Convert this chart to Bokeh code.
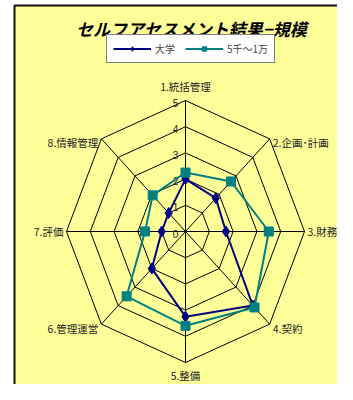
import math
from bokeh.plotting import figure
from bokeh.models import Range1d, Legend, LegendItem
from bokeh.core.properties import value
from bokeh.embed import file_html
from bokeh.resources import INLINE

# ---- data ----
categories = ["1.統括管理", "2.企画･計画", "3.財務", "4.契約", "5.整備", "6.管理運営", "7.評価", "8.情報管理"]
series_names = ["大学", "5千～1万"]
daigaku = [2.0, 1.8, 1.7, 4.0, 3.25, 2.0, 1.0, 1.0]
man1 = [2.25, 2.7, 3.5, 4.1, 3.6, 3.5, 1.7, 1.95]
tick_labels = ["0", "1", "2", "3", "4", "5"]
title_text = "セルフアセスメント結果−規模"

# ---- layout (figure pixels -> data units) ----
W, H = 337, 384
CX, CY = 185.0, 231.0      # px of chart centre
SX, SY = 23.8, 26.2        # px per unit
def px(x):
    return (x - CX) / SX
def py(y):
    return (CY - y) / SY

FONT_NAME = "Noto Sans CJK JP"
FONT = value(FONT_NAME)
NAVY = "#000080"
TEAL = "#008080"

p = figure(width=W, height=H, output_backend="svg", toolbar_location=None,
           x_range=Range1d(px(0), px(W)), y_range=Range1d(py(H), py(0)),
           x_axis_type=None, y_axis_type=None, min_border=0,
           background_fill_color="white", border_fill_color="white",
           outline_line_color=None)
p.grid.visible = False

# chart area background
p.quad(left=px(14), right=px(400), top=py(5), bottom=py(500),
       fill_color="#FFFF99", line_color="#111111", line_width=2)

n = len(categories)
angles = [math.pi / 2 - 2 * math.pi * i / n for i in range(n)]
maxv = 5

# grid polygons
for lev in range(1, maxv + 1):
    xs = [lev * math.cos(a) for a in angles] + [lev * math.cos(angles[0])]
    ys = [lev * math.sin(a) for a in angles] + [lev * math.sin(angles[0])]
    p.line(xs, ys, line_color="black", line_width=1)
# spokes
for a in angles:
    p.line([0, maxv * math.cos(a)], [0, maxv * math.sin(a)], line_color="black", line_width=1)

# tick labels along top axis
p.text(x=[-0.3] * len(tick_labels), y=[float(t) for t in tick_labels], text=tick_labels,
       text_align="right", text_baseline="middle", text_font=value("Liberation Sans"),
       text_font_size="10px", text_color="#222222", y_offset=2)

# series
def closed(vals):
    xs = [v * math.cos(a) for v, a in zip(vals, angles)]
    ys = [v * math.sin(a) for v, a in zip(vals, angles)]
    return xs + xs[:1], ys + ys[:1], xs, ys

xs1, ys1, mx1, my1 = closed(daigaku)
xs2, ys2, mx2, my2 = closed(man1)
l1 = p.line(xs1, ys1, line_color=NAVY, line_width=2)
s1 = p.scatter(mx1, my1, marker="diamond", size=11, fill_color=NAVY, line_color=NAVY)
l2 = p.line(xs2, ys2, line_color=TEAL, line_width=2)
s2 = p.scatter(mx2, my2, marker="square", size=9, fill_color=TEAL, line_color=TEAL)

# category labels
for i, a in enumerate(angles):
    c, s = math.cos(a), math.sin(a)
    x = maxv * c
    y = maxv * s
    if abs(c) < 1e-6:
        dy = 14 if s > 0 else -13
        p.text(x=[x], y=[y], text=[categories[i]], text_align="center", text_baseline="middle",
               y_offset=-dy, text_font=FONT, text_font_size="10.5px", text_color="#222222")
    else:
        align = "left" if c > 0 else "right"
        dx = 3 if c > 0 else -3
        dy = 0 if abs(s) < 1e-6 else 4
        p.text(x=[x], y=[y], text=[categories[i]], text_align=align, text_baseline="middle",
               x_offset=dx, y_offset=dy, text_font=FONT, text_font_size="10.5px", text_color="#222222")

# title
p.text(x=[px(191)], y=[py(28)], text=[title_text], text_align="center", text_baseline="middle",
       text_font=FONT, text_font_size="17px", text_font_style="bold italic", text_color="black")

legend = Legend(items=[LegendItem(label=series_names[0], renderers=[l1, s1]),
                       LegendItem(label=series_names[1], renderers=[l2, s2])],
                orientation="horizontal", location=(106, H - 63),
                label_text_font=FONT_NAME, label_text_font_size="10px",
                glyph_width=38, glyph_height=11, label_standoff=4, spacing=10,
                padding=6, margin=0, label_height=11,
                border_line_color="black", border_line_width=1,
                background_fill_color="white", background_fill_alpha=1)
p.add_layout(legend, "center")

open("out.html", "w").write(file_html(p, INLINE))
